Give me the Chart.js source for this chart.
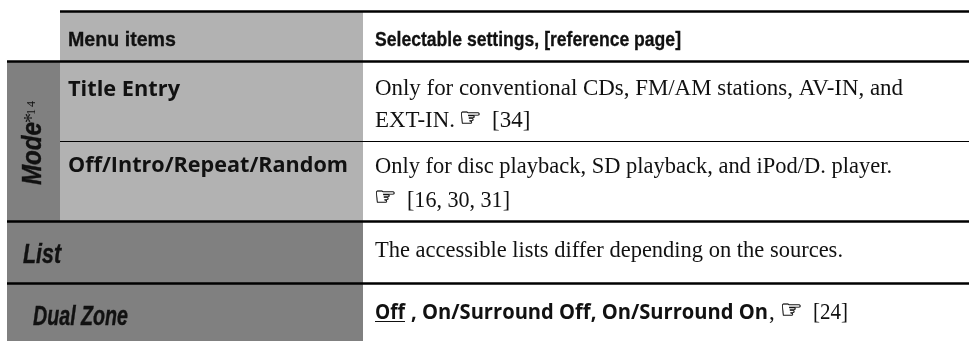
<!DOCTYPE html>
<html><head><meta charset="utf-8">
<style>html,body{margin:0;padding:0;background:#fff}#w{position:absolute;left:0;top:0;width:969px;height:341px}</style>
<script src="https://cdn.jsdelivr.net/npm/chart.js@4/dist/chart.umd.min.js"></script>
</head><body><div id="w"><canvas id="c" width="969" height="341"></canvas></div>
<script>
const columnHeaders = ["Menu items", "Selectable settings, [reference page]"];
const groupLabels = ["List", "Dual Zone"];
const rotatedGroup = ["Mode", "*", "14"];
const menuItems = ["Title Entry", "Off/Intro/Repeat/Random"];
const settingsLines = [
  "Only for conventional CDs, FM/AM stations, AV-IN, and",
  "EXT-IN.", "[34]",
  "Only for disc playback, SD playback, and iPod/D. player.",
  "[16, 30, 31]",
  "The accessible lists differ depending on the sources."
];
const dualZoneDefault = "Off";
const dualZoneOptions = ", On/Surround Off, On/Surround On";
const dualZoneRef = "[24]";
const handSign = "\u261E";

const W = 969, H = 341;
const X = {left:7, side:60, mid:363, right:969};
const Y = {top:11.5, head:61.5, thin:141.5, mode:221.5, list:283.5, end:341};
const GREY_L = "#b2b2b2", GREY_D = "#808080", INK = "#111";

const rect = (x0,x1,y0,y1,c)=>({type:"line",data:[{x:x0,y:y0},{x:x1,y:y0}],fill:{value:y1},backgroundColor:c,borderWidth:0,pointRadius:0,order:2});
const rule = (x0,x1,y,w)=>({type:"line",data:[{x:x0,y},{x:x1,y}],borderColor:"#000",borderWidth:w,pointRadius:0,fill:false,order:1});

const SERIF='"Liberation Serif"', NARROW='"Liberation Sans Narrow","Liberation Sans"', SANS='"Open Sans"', HAND='"DejaVu Sans"';
const textPlugin = {id:"tableText", afterDatasetsDraw(chart){
  const c = chart.ctx, sx = chart.scales.x, sy = chart.scales.y;
  const t = (s,x,y,font,w,stroke)=>{
    const px=sx.getPixelForValue(x), py=sy.getPixelForValue(y);
    c.font=font;c.fillStyle=INK;c.strokeStyle=INK;
    if(w) c.fillText(s,px,py,w); else c.fillText(s,px,py);
    if(stroke){c.lineWidth=stroke; if(w) c.strokeText(s,px,py,w); else c.strokeText(s,px,py);}
  };
  c.save(); c.textBaseline="alphabetic"; c.textAlign="left";
  const body = '23px '+SERIF, hand='25px '+HAND;
  t(columnHeaders[0],68,46,'bold 21px '+NARROW,108,0.3);
  t(columnHeaders[1],375,46,'bold 21px '+NARROW,306,0.3);
  t(menuItems[0],68,96,'bold 22px '+SANS,112);
  t(menuItems[1],68,172,'bold 22px '+SANS,280);
  t(settingsLines[0],375,95,body,528);
  t(settingsLines[1],375,127,body,80);
  t(handSign,459,126,hand,0,0.4);
  t(settingsLines[2],492,127,body);
  t(settingsLines[3],375,173,body,517);
  t(handSign,374,205,hand,0,0.4);
  t(settingsLines[4],407,207,body,103);
  t(settingsLines[5],375,257,body,468);
  t(groupLabels[0],23,263,'italic bold 27px '+NARROW,38,0.4);
  t(groupLabels[1],33,325,'italic bold 27px '+NARROW,95,0.4);
  t(dualZoneDefault,375,319,'bold 21px '+SANS,30);
  t(dualZoneOptions,411,319,'bold 21px '+SANS,357);
  c.fillStyle=INK; c.fillRect(375,321,30,1);
  t(",",769,319,body);
  t(handSign,780,318,hand,0,0.4);
  t(dualZoneRef,813,319,body,35);
  // rotated group label
  c.save(); c.translate(41,185); c.rotate(-Math.PI/2);
  c.font='italic bold 27px '+NARROW; c.fillStyle=INK; c.strokeStyle=INK; c.lineWidth=0.4;
  c.fillText(rotatedGroup[0],0,0,63); c.strokeText(rotatedGroup[0],0,0,63);
  c.font='20px '+SERIF; c.fillText(rotatedGroup[1],62,-3);
  c.font='12px '+SERIF; c.letterSpacing='2px'; c.fillText(rotatedGroup[2],70,-6);
  c.restore();
  c.restore();
}};

new Chart(document.getElementById("c"),{
  type:"line",
  data:{datasets:[
    rect(X.side,X.mid,Y.top,Y.head,GREY_L),
    rect(X.side,X.mid,Y.head,Y.mode,GREY_L),
    rect(X.left,X.side,Y.head,Y.mode,GREY_D),
    rect(X.left,X.mid,Y.mode,Y.end,GREY_D),
    rule(X.side,X.right,Y.top,2.4),
    rule(X.left,X.right,Y.head,2.4),
    rule(X.side,X.right,Y.thin,1.2),
    rule(X.left,X.right,Y.mode,2.4),
    rule(X.left,X.right,Y.list,2.4)
  ]},
  options:{
    responsive:false,animation:false,parsing:true,
    layout:{padding:0},
    plugins:{legend:{display:false},tooltip:{enabled:false},title:{display:false},filler:{propagate:false}},
    scales:{
      x:{type:"linear",min:0,max:W,display:false},
      y:{type:"linear",min:0,max:H,reverse:true,display:false}
    }
  },
  plugins:[textPlugin]
});
</script></body></html>
